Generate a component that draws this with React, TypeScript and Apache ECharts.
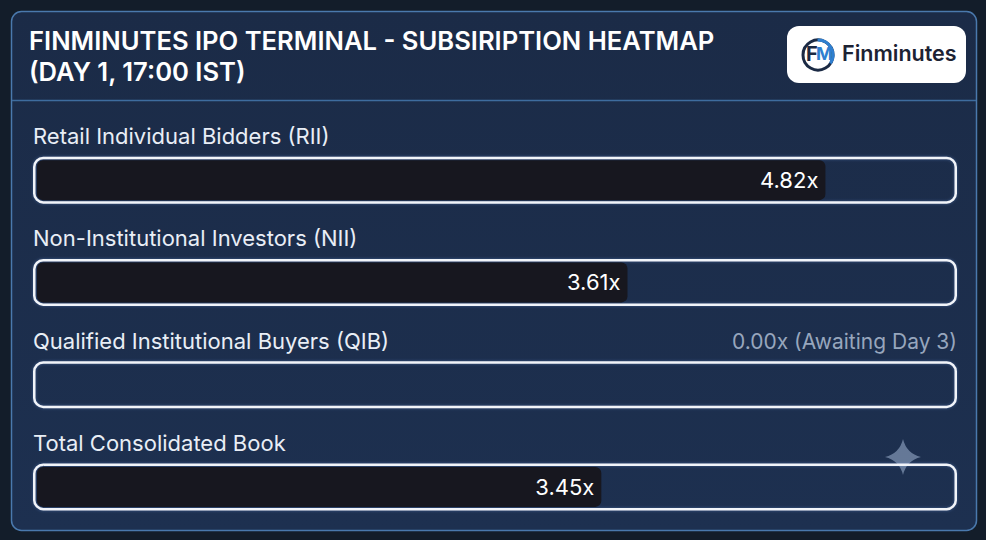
import React, { useEffect, useRef } from "react";
import * as echarts from "echarts";

const categories = [
  "Retail Individual Bidders (RII)",
  "Non-Institutional Investors (NII)",
  "Qualified Institutional Buyers (QIB)",
  "Total Consolidated Book",
];
const subscription = [4.82, 3.61, 0.0, 3.45];
const statusNotes = ["", "", "Awaiting Day 3", ""];
const scaleMax = 5.6;
const titleLines = ["FINMINUTES IPO TERMINAL - SUBSIRIPTION HEATMAP", "(DAY 1, 17:00 IST)"];
const brandName = "Finminutes";

echarts.graphic.registerShape(
  "sparkle",
  echarts.graphic.extendPath("M0,-18 Q3.5,-3.5 18,0 Q3.5,3.5 0,18 Q-3.5,3.5 -18,0 Q-3.5,-3.5 0,-18 Z", {})
);

export default function App() {
  const ref = useRef<HTMLDivElement>(null);
  useEffect(() => {
    if (!ref.current) return;
    const chart = echarts.init(ref.current, undefined, { renderer: "svg" });
    const font = "Inter, 'Noto Sans', sans-serif";
    const rightNotes = subscription.map((v, i) =>
      statusNotes[i] ? `${v.toFixed(2)}x (${statusNotes[i]})` : ""
    );
    const gridTop = 129;
    const gridBottom = 2;
    const option: any = {
      animation: false,
      backgroundColor: "#131d2a",
      textStyle: { fontFamily: font },
      grid: [
        { left: 33, right: 29, top: gridTop, bottom: gridBottom },
        { left: 37, right: 33, top: gridTop, bottom: gridBottom },
      ],
      xAxis: [
        { type: "value", gridIndex: 0, min: 0, max: scaleMax, show: false },
        { type: "value", gridIndex: 1, min: 0, max: scaleMax, show: false },
      ],
      yAxis: [
        {
          type: "category",
          gridIndex: 0,
          data: categories,
          inverse: true,
          position: "left",
          axisLine: { show: false },
          axisTick: { show: false },
          splitLine: { show: false },
          axisLabel: {
            inside: true,
            margin: 0,
            align: "left",
            verticalAlign: "bottom",
            padding: [0, 0, 33, 0],
            color: "#e9eef6",
            fontSize: 22,
            fontFamily: font,
          },
        },
        {
          type: "category",
          gridIndex: 0,
          data: rightNotes,
          inverse: true,
          position: "right",
          axisLine: { show: false },
          axisTick: { show: false },
          splitLine: { show: false },
          axisLabel: {
            inside: true,
            margin: 0,
            align: "right",
            verticalAlign: "bottom",
            padding: [0, 0, 33, 0],
            color: "#97a6bd",
            fontSize: 21,
            fontFamily: font,
          },
        },
        {
          type: "category",
          gridIndex: 1,
          data: categories,
          inverse: true,
          show: false,
        },
      ],
      series: [
        {
          type: "bar",
          name: "track",
          xAxisIndex: 0,
          yAxisIndex: 0,
          data: categories.map(() => scaleMax),
          barWidth: 47,
          silent: true,
          z: 1,
          itemStyle: {
            color: "rgba(0,0,0,0)",
            borderColor: "#f1f4f9",
            borderWidth: 2.5,
            borderRadius: 9,
            shadowBlur: 3,
            shadowColor: "rgba(110,160,240,0.4)",
          },
        },
        {
          type: "bar",
          name: "subscription",
          xAxisIndex: 1,
          yAxisIndex: 2,
          data: subscription,
          barWidth: 40,
          z: 2,
          itemStyle: { color: "#17171f", borderRadius: 6 },
          label: {
            show: true,
            position: "insideRight",
            distance: 7,
            color: "#ffffff",
            fontSize: 22,
            fontFamily: font,
            formatter: (p: any) => (p.value > 0 ? `${Number(p.value).toFixed(2)}x` : ""),
          },
        },
      ],
      graphic: [
        {
          type: "rect",
          z: -10,
          shape: { x: 11.5, y: 11.5, width: 965, height: 519, r: 10 },
          style: {
            fill: {
              type: "linear",
              x: 0,
              y: 0,
              x2: 0,
              y2: 1,
              colorStops: [
                { offset: 0, color: "#1b2b47" },
                { offset: 1, color: "#1d3050" },
              ],
            },
            stroke: "#4a79ad",
            lineWidth: 1.5,
          },
        },
        {
          type: "line",
          z: -9,
          shape: { x1: 12, y1: 100.5, x2: 976, y2: 100.5 },
          style: { stroke: "#3e6c9e", lineWidth: 1.5 },
        },
        {
          type: "text",
          left: 29,
          top: 25,
          style: {
            text: titleLines.join("\n"),
            fill: "#ffffff",
            font: `600 25.6px ${font}`,
            lineHeight: 31,
          },
        },
        {
          type: "rect",
          shape: { x: 787, y: 26, width: 179, height: 57, r: 12 },
          style: { fill: "#ffffff" },
        },
        {
          type: "circle",
          shape: { cx: 818, cy: 55, r: 15 },
          style: { fill: "#ffffff", stroke: "#1b2a44", lineWidth: 3 },
        },
        {
          type: "arc",
          shape: { cx: 818, cy: 55, r: 15, startAngle: -1.6, endAngle: 0.6 },
          style: { stroke: "#2f7fd0", lineWidth: 3, fill: "none" },
        },
        {
          type: "text",
          left: 806,
          top: 44,
          style: { text: "F", fill: "#1b2a44", font: `700 20px ${font}` },
        },
        {
          type: "text",
          left: 816,
          top: 44,
          style: { text: "M", fill: "#2f7fd0", font: `700 18px ${font}` },
        },
        {
          type: "text",
          left: 842,
          top: 42,
          style: { text: brandName, fill: "#1c2233", font: `600 21.5px ${font}` },
        },
        {
          type: "sparkle",
          x: 903,
          y: 457,
          style: { fill: "rgba(150,170,200,0.6)" },
        },
      ],
    };
    chart.setOption(option);
    return () => chart.dispose();
  }, []);
  return (
    <div
      ref={ref}
      style={{ position: "fixed", left: 0, top: 0, width: 986, height: 540 }}
    />
  );
}
